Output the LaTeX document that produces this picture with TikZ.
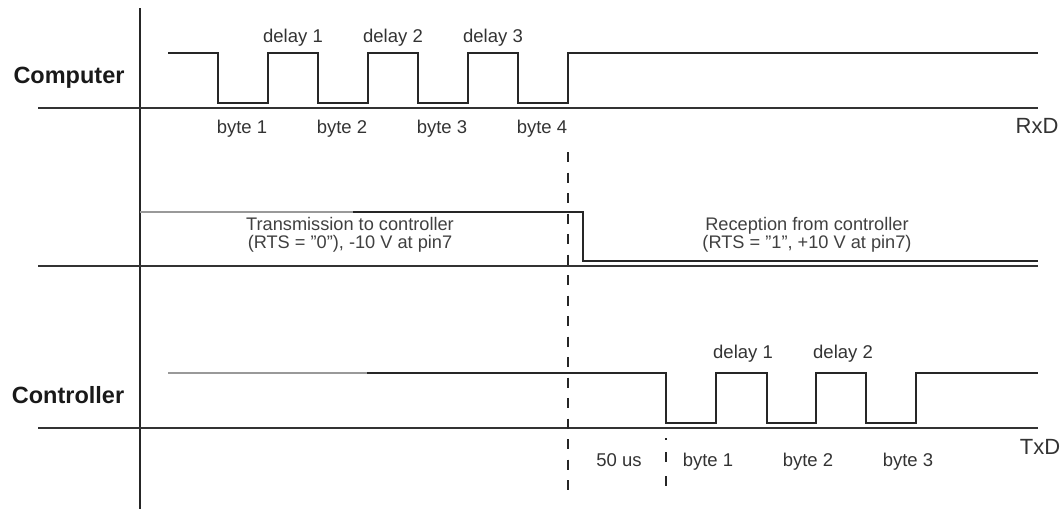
\documentclass[tikz,border=0pt]{standalone}
\usepackage{fontspec}
\setmainfont{Liberation Sans}
\begin{document}
\begin{tikzpicture}[x=1pt,y=-1pt,
  sig/.style={line width=1.6pt,draw=black!85,line join=miter},
  base/.style={line width=2.8pt,draw=black!80},
  faint/.style={line width=1.6pt,draw=black!40},
  axisline/.style={line width=2.5pt,draw=black!85},
  lbl/.style={font=\fontsize{18.5}{20}\selectfont,text=black!80,inner sep=0pt,anchor=base},
  big/.style={font=\bfseries\fontsize{23.5}{26}\selectfont,text=black!90,inner sep=0pt,anchor=base},
  note/.style={font=\fontsize{18.2}{19}\selectfont,text=black!75,inner sep=0pt,anchor=base},
  vdash/.style={line width=1.8pt,draw=black!85,dash pattern=on 10pt off 10.5pt}]
\useasboundingbox (0,0) rectangle (1061,509);

% vertical axis
\coordinate (axT) at (140,8);
\coordinate (axB) at (140,509);
\draw[axisline] (axT) -- (axB);

% baselines
\coordinate (b1L) at (38,108);  \coordinate (b1R) at (1038,108);
\coordinate (b2L) at (38,266);  \coordinate (b2R) at (1038,266);
\coordinate (b3L) at (38,428);  \coordinate (b3R) at (1038,428);
\draw[base] (b1L) -- (b1R);
\draw[base] (b2L) -- (b2R);
\draw[base] (b3L) -- (b3R);

% Computer signal (RxD)
\draw[sig] (168,53) -- (218,53) -- (218,103) -- (268,103) -- (268,53)
  -- (318,53) -- (318,103) -- (368,103) -- (368,53)
  -- (418,53) -- (418,103) -- (468,103) -- (468,53)
  -- (518,53) -- (518,103) -- (568,103) -- (568,53) -- (1038,53);

% RTS signal
\draw[faint] (140,212) -- (353,212);
\draw[sig] (353,212) -- (583,212) -- (583,261) -- (1038,261);

% Controller signal (TxD)
\draw[faint] (168,373) -- (367,373);
\draw[sig] (367,373) -- (666,373) -- (666,423) -- (716,423) -- (716,373)
  -- (767,373) -- (767,423) -- (816,423) -- (816,373)
  -- (866,373) -- (866,423) -- (916,423) -- (916,373) -- (1038,373);

% dashed markers
\coordinate (d1T) at (568,152); \coordinate (d1B) at (568,490);
\coordinate (d2T) at (666,438); \coordinate (d2B) at (666,490);
\draw[vdash] (d1T) -- (d1B);
\draw[vdash,dash pattern=on 2pt off 12pt on 10pt off 14pt on 10pt off 10pt] (d2T) -- (d2B);

% row labels
\node[big] (comp) at (69,83) {Computer};
\node[big] (ctrl) at (68,403) {Controller};
\node[font=\fontsize{22}{24}\selectfont,text=black!80,inner sep=0pt,anchor=base] (rxd) at (1037,133) {RxD};
\node[font=\fontsize{22}{24}\selectfont,text=black!80,inner sep=0pt,anchor=base] (txd) at (1040,454) {TxD};

% computer labels
\node[lbl] (cd1) at (293,42) {delay 1};
\node[lbl] (cd2) at (393,42) {delay 2};
\node[lbl] (cd3) at (493,42) {delay 3};
\node[lbl] (cb1) at (242,133) {byte 1};
\node[lbl] (cb2) at (342,133) {byte 2};
\node[lbl] (cb3) at (442,133) {byte 3};
\node[lbl] (cb4) at (542,133) {byte 4};

% RTS notes
\node[note] (tx1) at (350,230) {Transmission to controller};
\node[note] (tx2) at (350,248) {(RTS = \symbol{34}0\symbol{34}), -10 V at pin7};
\node[note] (rx1) at (807,230) {Reception from controller};
\node[note] (rx2) at (807,248) {(RTS = \symbol{34}1\symbol{34}, +10 V at pin7)};

% controller labels
\node[lbl] (kd1) at (743,358) {delay 1};
\node[lbl] (kd2) at (843,358) {delay 2};
\node[lbl] (us) at (619,466) {50 us};
\node[lbl] (kb1) at (708,466) {byte 1};
\node[lbl] (kb2) at (808,466) {byte 2};
\node[lbl] (kb3) at (908,466) {byte 3};
\end{tikzpicture}
\end{document}
